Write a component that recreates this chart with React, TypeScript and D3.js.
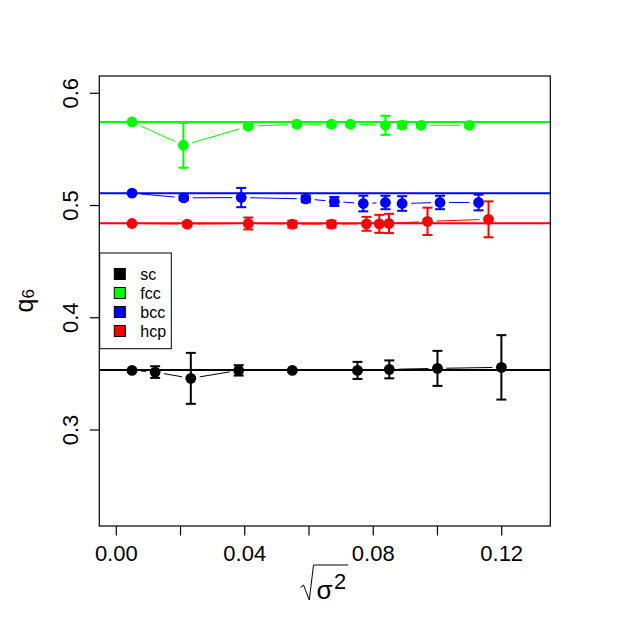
import React from 'react';
import * as d3 from 'd3';

// values
const scX = [0.0049, 0.0121, 0.0232, 0.0381, 0.0548, 0.0751, 0.085, 0.1, 0.1199];
const scY = [0.3531, 0.3516, 0.346, 0.3531, 0.3531, 0.3531, 0.354, 0.3549, 0.3558];
const scErr = [0, 0.0052, 0.0227, 0.0046, 0, 0.0076, 0.008, 0.0156, 0.0287];

const fccX = [0.0049, 0.0209, 0.0411, 0.0562, 0.067, 0.0729, 0.0838, 0.089, 0.0949, 0.1099];
const fccY = [0.5744, 0.5537, 0.5706, 0.5724, 0.5724, 0.5724, 0.5715, 0.5717, 0.5715, 0.5715];
const fccErr = [0, 0.02, 0.002, 0.002, 0.002, 0.002, 0.0085, 0.003, 0.002, 0.002];

const bccX = [0.0049, 0.021, 0.0389, 0.059, 0.0679, 0.0769, 0.0838, 0.089, 0.1008, 0.1128];
const bccY = [0.511, 0.5068, 0.5071, 0.5059, 0.5036, 0.5018, 0.5027, 0.5018, 0.5027, 0.5027];
const bccErr = [0, 0.002, 0.0086, 0.003, 0.004, 0.007, 0.006, 0.0065, 0.006, 0.007];

const hcpX = [0.0049, 0.0221, 0.0411, 0.0548, 0.067, 0.0779, 0.0819, 0.0849, 0.0969, 0.1159];
const hcpY = [0.484, 0.4834, 0.484, 0.4834, 0.4834, 0.4837, 0.4837, 0.484, 0.4859, 0.4877];
const hcpErr = [0, 0.002, 0.0053, 0.003, 0.003, 0.0062, 0.008, 0.0086, 0.0122, 0.016];

const refLines = [0.3534, 0.5744, 0.511, 0.4842];
const seriesNames = ['sc', 'fcc', 'bcc', 'hcp'];
const seriesColors = ['#000000', '#00ff00', '#0000ff', '#ff0000'];

const xTicks = [0, 0.02, 0.04, 0.06, 0.08, 0.1, 0.12];
const xLabels = ['0.00', '0.04', '0.08', '0.12'];
const yTicks = [0.3, 0.4, 0.5, 0.6];

const W = 627;
const H = 626;
const left = 99.3;
const right = 550.3;
const top = 76;
const bottom = 526;
const font = '"Liberation Sans", Arial, sans-serif';

const App: React.FC = () => {
  const x = d3.scaleLinear().domain([-0.00529, 0.13513]).range([left, right]);
  const y = d3.scaleLinear().domain([0.21444, 0.61541]).range([bottom, top]);

  const series = [
    { xs: scX, ys: scY, err: scErr },
    { xs: fccX, ys: fccY, err: fccErr },
    { xs: bccX, ys: bccY, err: bccErr },
    { xs: hcpX, ys: hcpY, err: hcpErr },
  ];

  // type = "b": segments with a gap around each point
  const gap = 9;
  const gapSegments = (xs: number[], ys: number[]) => {
    const out: string[] = [];
    for (let i = 0; i < xs.length - 1; i++) {
      const x0 = x(xs[i]), y0 = y(ys[i]), x1 = x(xs[i + 1]), y1 = y(ys[i + 1]);
      const len = Math.hypot(x1 - x0, y1 - y0);
      if (len <= 2 * gap) continue;
      const ux = (x1 - x0) / len, uy = (y1 - y0) / len;
      const p = d3.path();
      p.moveTo(x0 + ux * gap, y0 + uy * gap);
      p.lineTo(x1 - ux * gap, y1 - uy * gap);
      out.push(p.toString());
    }
    return out;
  };

  const legendRows = [274, 293, 312, 331];

  return (
    <div style={{ position: 'absolute', left: 0, top: 0 }}>
      <svg width={W} height={H} style={{ display: 'block', background: '#fff' }}>
        <defs>
          <clipPath id="plot">
            <rect x={left} y={top} width={right - left} height={bottom - top} />
          </clipPath>
        </defs>

        <g clipPath="url(#plot)">
          {refLines.map((v, i) => (
            <line key={i} x1={left} x2={right} y1={y(v)} y2={y(v)} stroke={seriesColors[i]} strokeWidth={2} />
          ))}
        </g>

        {series.map((s, si) => (
          <g key={si} stroke={seriesColors[si]} fill={seriesColors[si]}>
            {gapSegments(s.xs, s.ys).map((d, k) => (
              <path key={k} d={d} fill="none" strokeWidth={1} />
            ))}
            {s.xs.map((xv, k) =>
              s.err[k] > 0 ? (
                <g key={'e' + k} strokeWidth={2} fill="none">
                  <line x1={x(xv)} x2={x(xv)} y1={y(s.ys[k] - s.err[k])} y2={y(s.ys[k] + s.err[k])} />
                  <line x1={x(xv) - 5} x2={x(xv) + 5} y1={y(s.ys[k] - s.err[k])} y2={y(s.ys[k] - s.err[k])} />
                  <line x1={x(xv) - 5} x2={x(xv) + 5} y1={y(s.ys[k] + s.err[k])} y2={y(s.ys[k] + s.err[k])} />
                </g>
              ) : null
            )}
            {s.xs.map((xv, k) => (
              <circle key={'p' + k} cx={x(xv)} cy={y(s.ys[k])} r={5.4} stroke="none" />
            ))}
          </g>
        ))}

        {/* frame */}
        <rect x={left} y={top} width={right - left} height={bottom - top} fill="none" stroke="#000" strokeWidth={1.2} />

        {/* x axis */}
        {xTicks.map((t) => (
          <line key={t} x1={x(t)} x2={x(t)} y1={bottom} y2={bottom + 9.5} stroke="#000" strokeWidth={1.2} />
        ))}
        {xLabels.map((l) => (
          <text key={l} x={x(+l)} y={561} textAnchor="middle" fontFamily={font} fontSize={22}>
            {l}
          </text>
        ))}

        {/* y axis */}
        {yTicks.map((t) => (
          <g key={t}>
            <line x1={left - 9.5} x2={left} y1={y(t)} y2={y(t)} stroke="#000" strokeWidth={1.2} />
            <text
              transform={`translate(78.3,${y(t)}) rotate(-90)`}
              textAnchor="middle"
              fontFamily={font}
              fontSize={22}
            >
              {t.toFixed(1)}
            </text>
          </g>
        ))}

        {/* y label q6 */}
        <text transform="translate(33,312.5) rotate(-90)" fontFamily={font} fontSize={25}>
          q<tspan fontSize={17} dy={1}>6</tspan>
        </text>

        {/* x label sqrt(sigma^2) */}
        <path d="M300.7,587.5 L303.5,585 L309.3,600 L313.5,565 L348.3,565" fill="none" stroke="#000" strokeWidth={1} />
        <text x={316.5} y={599} fontFamily={font} fontSize={26}>
          σ
        </text>
        <text x={334} y={589} fontFamily={font} fontSize={22}>
          2
        </text>

        {/* legend */}
        <rect x={99.7} y={253} width={71.6} height={95.7} fill="#fff" stroke="#000" strokeWidth={1} />
        {seriesNames.map((n, i) => (
          <g key={n}>
            <rect x={114.3} y={legendRows[i] - 5.5} width={11} height={11} fill={seriesColors[i]} stroke="#000" strokeWidth={1} />
            <text x={140.3} y={legendRows[i] + 6} fontFamily={font} fontSize={16}>
              {n}
            </text>
          </g>
        ))}
      </svg>
    </div>
  );
};

export default App;
